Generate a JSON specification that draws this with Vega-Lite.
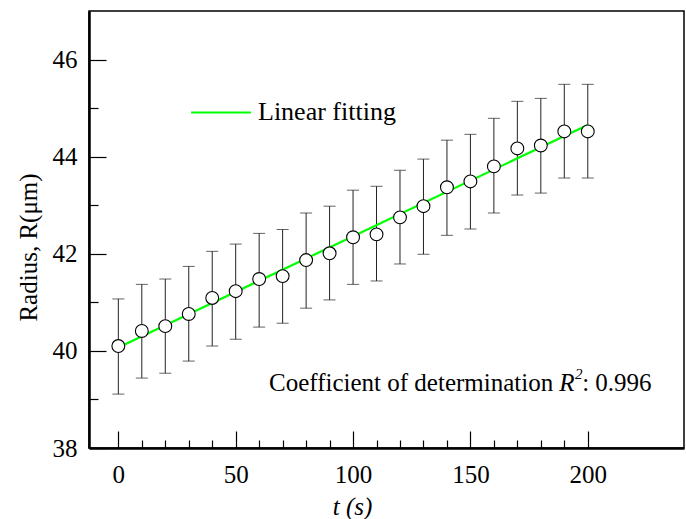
{
  "$schema": "https://vega.github.io/schema/vega-lite/v6.json",
  "autosize": {"type": "none"},
  "width": 595,
  "height": 437,
  "padding": {"left": 89, "top": 11, "right": 2, "bottom": 71},
  "background": "white",
  "config": {
    "view": {"stroke": "black", "strokeWidth": 1.5},
    "font": "Liberation Serif",
    "axis": {"labelFont": "Liberation Serif", "titleFont": "Liberation Serif"},
    "text": {"font": "Liberation Serif"}
  },
  "resolve": {"axis": {"x": "independent", "y": "independent"}},
  "datasets": {
    "pts": [
      {"t": 0, "r": 40.10, "lo": 39.11, "hi": 41.07},
      {"t": 10, "r": 40.41, "lo": 39.44, "hi": 41.37},
      {"t": 20, "r": 40.51, "lo": 39.54, "hi": 41.48},
      {"t": 30, "r": 40.76, "lo": 39.79, "hi": 41.74},
      {"t": 40, "r": 41.09, "lo": 40.10, "hi": 42.05},
      {"t": 50, "r": 41.23, "lo": 40.24, "hi": 42.20},
      {"t": 60, "r": 41.48, "lo": 40.49, "hi": 42.42},
      {"t": 70, "r": 41.54, "lo": 40.57, "hi": 42.50},
      {"t": 80, "r": 41.87, "lo": 40.88, "hi": 42.84},
      {"t": 90, "r": 42.01, "lo": 41.05, "hi": 42.98},
      {"t": 100, "r": 42.34, "lo": 41.37, "hi": 43.31},
      {"t": 110, "r": 42.40, "lo": 41.44, "hi": 43.39},
      {"t": 120, "r": 42.75, "lo": 41.79, "hi": 43.72},
      {"t": 130, "r": 42.98, "lo": 41.99, "hi": 43.95},
      {"t": 140, "r": 43.37, "lo": 42.38, "hi": 44.34},
      {"t": 150, "r": 43.49, "lo": 42.51, "hi": 44.46},
      {"t": 160, "r": 43.80, "lo": 42.84, "hi": 44.79},
      {"t": 170, "r": 44.17, "lo": 43.21, "hi": 45.14},
      {"t": 180, "r": 44.23, "lo": 43.25, "hi": 45.20},
      {"t": 190, "r": 44.52, "lo": 43.56, "hi": 45.49},
      {"t": 200, "r": 44.52, "lo": 43.56, "hi": 45.49}
    ],
    "legend": [{"x1": 31, "x2": 56.5, "y": 44.91, "label": "Linear fitting", "tx": 59.5}],
    "ann": [{"x": 64.2, "y": 39.17, "a": "Coefficient of determination", "rx": 187.8, "r": "R", "sx": 194.6, "sy": 39.42, "s": "2", "cx": 197.6, "c": ": 0.996"}],
    "minorx": [{"v": 10}],
    "minory": [{"v": 39}]
  },
  "layer": [
    {
      "data": {"name": "pts"},
      "mark": {"type": "rule", "color": "#222", "strokeWidth": 1},
      "encoding": {
        "x": {
          "field": "t", "type": "quantitative",
          "scale": {"domain": [-12.5, 241], "nice": false, "zero": false},
          "axis": {
            "orient": "bottom",
            "values": [0, 50, 100, 150, 200],
            "tickSize": -17, "tickWidth": 1.2, "tickColor": "black",
            "domainColor": "black", "domainWidth": 2.5,
            "labelFont": "Liberation Serif", "labelFontSize": 25, "labelColor": "black",
            "labelPadding": 31, "labelBaseline": "top", "labelFlush": false, "labelOverlap": false,
            "grid": false,
            "title": "t (s)", "titleFont": "Liberation Serif", "titleFontStyle": "italic",
            "titleFontWeight": "normal", "titleFontSize": 25, "titleColor": "black",
            "titleAnchor": null, "titleX": 263, "titleY": 66, "titleBaseline": "alphabetic", "titleAlign": "center"
          }
        },
        "y": {
          "field": "lo", "type": "quantitative",
          "scale": {"domain": [38, 47], "nice": false, "zero": false},
          "axis": {
            "orient": "left",
            "values": [38, 40, 42, 44, 46],
            "tickSize": -17, "tickWidth": 1.2, "tickColor": "black",
            "domainColor": "black", "domainWidth": 2.5,
            "labelFont": "Liberation Serif", "labelFontSize": 25, "labelColor": "black",
            "labelPadding": 29, "labelOverlap": false, "labelFlush": false, "grid": false,
            "title": "Radius, R(μm)", "titleFont": "Liberation Serif",
            "titleFontWeight": "normal", "titleFontSize": 25, "titleColor": "black",
            "titleAnchor": null, "titleX": -53, "titleY": 236, "titleBaseline": "alphabetic", "titleAlign": "center", "titleAngle": -90
          }
        },
        "y2": {"field": "hi"}
      }
    },
    {
      "data": {"name": "minorx"},
      "mark": {"type": "point", "opacity": 0},
      "encoding": {
        "x": {
          "field": "v", "type": "quantitative",
          "axis": {
            "orient": "bottom",
            "values": [10, 20, 30, 40, 60, 70, 80, 90, 110, 120, 130, 140, 160, 170, 180, 190],
            "tickSize": -8, "tickWidth": 1.2, "tickColor": "black", "labels": false,
            "domain": false, "grid": false, "title": null
          }
        }
      }
    },
    {
      "data": {"name": "minory"},
      "mark": {"type": "point", "opacity": 0},
      "encoding": {
        "y": {
          "field": "v", "type": "quantitative",
          "axis": {
            "orient": "left",
            "values": [39, 41, 43, 45],
            "tickSize": -9, "tickWidth": 1.2, "tickColor": "black", "labels": false,
            "domain": false, "grid": false, "title": null
          }
        }
      }
    },
    {
      "data": {"name": "pts"},
      "mark": {"type": "tick", "orient": "horizontal", "color": "#222", "size": 12, "thickness": 1},
      "encoding": {
        "x": {"field": "t", "type": "quantitative", "axis": null},
        "y": {"field": "lo", "type": "quantitative", "axis": null}
      }
    },
    {
      "data": {"name": "pts"},
      "mark": {"type": "tick", "orient": "horizontal", "color": "#222", "size": 12, "thickness": 1},
      "encoding": {
        "x": {"field": "t", "type": "quantitative", "axis": null},
        "y": {"field": "hi", "type": "quantitative", "axis": null}
      }
    },
    {
      "data": {"name": "pts"},
      "transform": [{"regression": "r", "on": "t", "extent": [0, 200]}],
      "mark": {"type": "line", "color": "#00ff00", "strokeWidth": 2.2},
      "encoding": {
        "x": {"field": "t", "type": "quantitative", "axis": null},
        "y": {"field": "r", "type": "quantitative", "axis": null}
      }
    },
    {
      "data": {"name": "pts"},
      "mark": {"type": "point", "shape": "circle", "filled": true, "fill": "white", "stroke": "black", "strokeWidth": 1.1, "size": 165, "opacity": 1},
      "encoding": {
        "x": {"field": "t", "type": "quantitative", "axis": null},
        "y": {"field": "r", "type": "quantitative", "axis": null}
      }
    },
    {
      "data": {"name": "legend"},
      "mark": {"type": "rule", "color": "#00ff00", "strokeWidth": 2.2},
      "encoding": {
        "x": {"field": "x1", "type": "quantitative", "axis": null},
        "x2": {"field": "x2"},
        "y": {"field": "y", "type": "quantitative", "axis": null}
      }
    },
    {
      "data": {"name": "legend"},
      "mark": {"type": "text", "align": "left", "baseline": "middle", "font": "Liberation Serif", "fontSize": 26, "color": "black"},
      "encoding": {
        "x": {"field": "tx", "type": "quantitative", "axis": null},
        "y": {"field": "y", "type": "quantitative", "axis": null},
        "text": {"field": "label"}
      }
    },
    {
      "data": {"name": "ann"},
      "mark": {"type": "text", "align": "left", "baseline": "alphabetic", "font": "Liberation Serif", "fontSize": 25, "color": "black"},
      "encoding": {
        "x": {"field": "x", "type": "quantitative", "axis": null},
        "y": {"field": "y", "type": "quantitative", "axis": null},
        "text": {"field": "a"}
      }
    },
    {
      "data": {"name": "ann"},
      "mark": {"type": "text", "align": "left", "baseline": "alphabetic", "font": "Liberation Serif", "fontSize": 25, "fontStyle": "italic", "color": "black"},
      "encoding": {
        "x": {"field": "rx", "type": "quantitative", "axis": null},
        "y": {"field": "y", "type": "quantitative", "axis": null},
        "text": {"field": "r"}
      }
    },
    {
      "data": {"name": "ann"},
      "mark": {"type": "text", "align": "left", "baseline": "alphabetic", "font": "Liberation Serif", "fontSize": 15, "fontStyle": "italic", "color": "black"},
      "encoding": {
        "x": {"field": "sx", "type": "quantitative", "axis": null},
        "y": {"field": "sy", "type": "quantitative", "axis": null},
        "text": {"field": "s"}
      }
    },
    {
      "data": {"name": "ann"},
      "mark": {"type": "text", "align": "left", "baseline": "alphabetic", "font": "Liberation Serif", "fontSize": 25, "color": "black"},
      "encoding": {
        "x": {"field": "cx", "type": "quantitative", "axis": null},
        "y": {"field": "y", "type": "quantitative", "axis": null},
        "text": {"field": "c"}
      }
    }
  ]
}
